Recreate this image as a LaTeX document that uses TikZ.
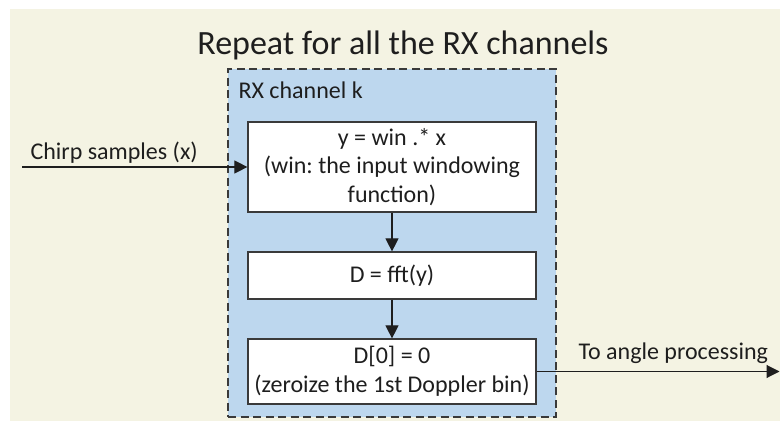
\documentclass[tikz,border=0pt]{standalone}
\usepackage{fontspec}
\setmainfont{Carlito}
\frenchspacing
\usetikzlibrary{arrows.meta}
\definecolor{cream}{HTML}{F4F3E3}
\definecolor{chanblue}{HTML}{BDD7EE}
\definecolor{edge}{HTML}{3A3A3A}
\definecolor{ink}{HTML}{1E1E1E}
\begin{document}
\begin{tikzpicture}[x=1pt,y=-1pt,
  every node/.style={text=ink},
  body/.style={font=\fontsize{24}{28.5}\selectfont},
  stepbox/.style={draw=edge,line width=1.2pt,fill=white,minimum width=288pt,
    align=center,inner sep=0pt,body},
  channel/.style={draw=edge,line width=1.5pt,dash pattern=on 8pt off 4.5pt,
    fill=chanblue,minimum width=328pt,minimum height=348pt,inner sep=0pt},
  flow/.style={draw=ink,line width=1.1pt,-{Triangle[length=13pt,width=13pt]}}]
  \useasboundingbox (0,0) rectangle (780,423);
  % page background
  \fill[cream] (10,9) rectangle (780,421);

  % title
  \node[anchor=base,font=\fontsize{34}{40}\selectfont] (title) at (403,54)
    {Repeat for all the RX channels};

  % per-channel container
  \node[channel] (chan) at (392,243) {};
  \node[anchor=base west,body] (chanlabel) at (235,98) {RX channel k};

  % processing steps
  \node[stepbox,minimum height=90pt] (win) at (392,167)
    {y = win .* x\\(win: the input windowing\\function)};
  \node[stepbox,minimum height=47pt] (fft) at (392,275.5) {D = fft(y)};
  \node[stepbox,minimum height=65pt] (zero) at (392,371.5)
    {D[0] = 0\\(zeroize the 1st Doppler bin)};

  % input and output ends
  \coordinate (in) at (22,167);
  \coordinate (out) at (779.5,371.5);

  \draw[flow] (in) -- (win.west);
  \draw[flow] (win.south) -- (fft.north);
  \draw[flow] (fft.south) -- (zero.north);
  \draw[flow] (zero.east) -- (out);

  % connector labels
  \node[anchor=base west,body] (inlabel) at (27,159) {Chirp samples (x)};
  \node[anchor=base west,body] (outlabel) at (575,359) {To angle processing};
\end{tikzpicture}
\end{document}
